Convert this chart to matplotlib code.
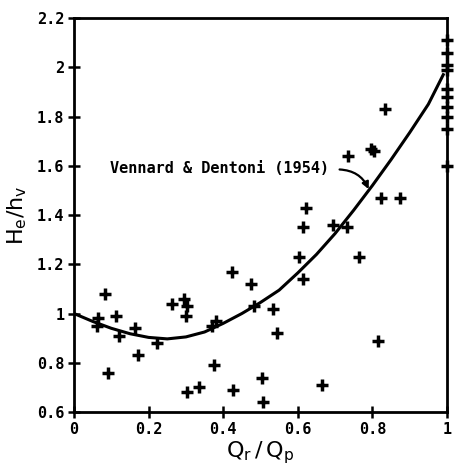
import matplotlib
matplotlib.use('Agg')
import matplotlib.pyplot as plt

# measured points (Qr/Qp, He/hv)
qr_qp = [0.083, 0.064, 0.061, 0.113, 0.121, 0.164, 0.172, 0.092, 0.222, 0.262,
         0.295, 0.302, 0.300, 0.302, 0.335, 0.374, 0.369, 0.382, 0.423, 0.474,
         0.483, 0.534, 0.545, 0.425, 0.505, 0.506, 0.603, 0.615, 0.665, 0.765,
         0.815, 0.622, 0.615, 0.695, 0.733, 0.734, 0.797, 0.804, 0.833, 0.824,
         0.873,
         1.0, 1.0, 1.0, 1.0, 1.0, 1.0, 1.0, 1.0, 1.0, 1.0]
he_hv = [1.08, 0.98, 0.95, 0.99, 0.91, 0.94, 0.83, 0.76, 0.88, 1.04,
         1.06, 1.03, 0.99, 0.68, 0.70, 0.79, 0.95, 0.97, 1.17, 1.12,
         1.03, 1.02, 0.92, 0.69, 0.74, 0.64, 1.23, 1.14, 0.71, 1.23,
         0.89, 1.43, 1.35, 1.36, 1.35, 1.64, 1.67, 1.66, 1.83, 1.47,
         1.47,
         2.11, 2.06, 2.01, 1.99, 1.91, 1.88, 1.84, 1.80, 1.75, 1.60]

# Vennard & Dentoni (1954) curve
curve_x = [0.0, 0.05, 0.10, 0.15, 0.20, 0.25, 0.30, 0.35, 0.40, 0.45, 0.50,
           0.55, 0.60, 0.65, 0.70, 0.75, 0.80, 0.85, 0.90, 0.95, 0.99]
curve_y = [1.00, 0.968, 0.94, 0.918, 0.903, 0.897, 0.905, 0.925, 0.96, 1.00, 1.045,
           1.095, 1.165, 1.24, 1.325, 1.42, 1.52, 1.625, 1.735, 1.85, 1.97]

xticks = [0, 0.2, 0.4, 0.6, 0.8, 1]
xticklabels = ['0', '0.2', '0.4', '0.6', '0.8', '1']
yticks = [0.6, 0.8, 1.0, 1.2, 1.4, 1.6, 1.8, 2.0, 2.2]
yticklabels = ['0.6', '0.8', '1', '1.2', '1.4', '1.6', '1.8', '2', '2.2']

mono = 'DejaVu Sans Mono'

fig = plt.figure(figsize=(4.54, 4.75), dpi=100)
ax = fig.add_axes([0.163, 0.1326, 0.8216, 0.8294])

ax.plot(curve_x, curve_y, color='black', lw=2.2)
ax.plot(qr_qp, he_hv, linestyle='none', marker='+', color='black',
        markersize=8, mew=2.5, clip_on=False)

ax.set_xlim(0, 1)
ax.set_ylim(0.6, 2.2)
ax.set_xticks(xticks)
ax.set_xticklabels(xticklabels, family=mono, fontweight='bold', fontsize=11)
ax.set_yticks(yticks)
ax.set_yticklabels(yticklabels, family=mono, fontweight='bold', fontsize=11)
ax.tick_params(direction='inout', length=8, width=1.8, pad=3)

for sp in ax.spines.values():
    sp.set_linewidth(2)

ax.text(0.097, 1.59, 'Vennard & Dentoni (1954)', fontsize=11, family=mono,
        fontweight='bold', va='center')
ax.annotate('', xy=(0.79, 1.505), xytext=(0.712, 1.585),
            arrowprops=dict(arrowstyle='-|>', color='black', lw=1.6,
                            connectionstyle='arc3,rad=-0.3', shrinkA=0, shrinkB=0))

ax.set_xlabel(r'$\mathsf{Q_r\,/\,Q_p}$', fontsize=16, labelpad=2)
ax.set_ylabel(r'$\mathsf{H_e/h_v}$', fontsize=16, labelpad=6)

fig.savefig('out.png', dpi=100)
